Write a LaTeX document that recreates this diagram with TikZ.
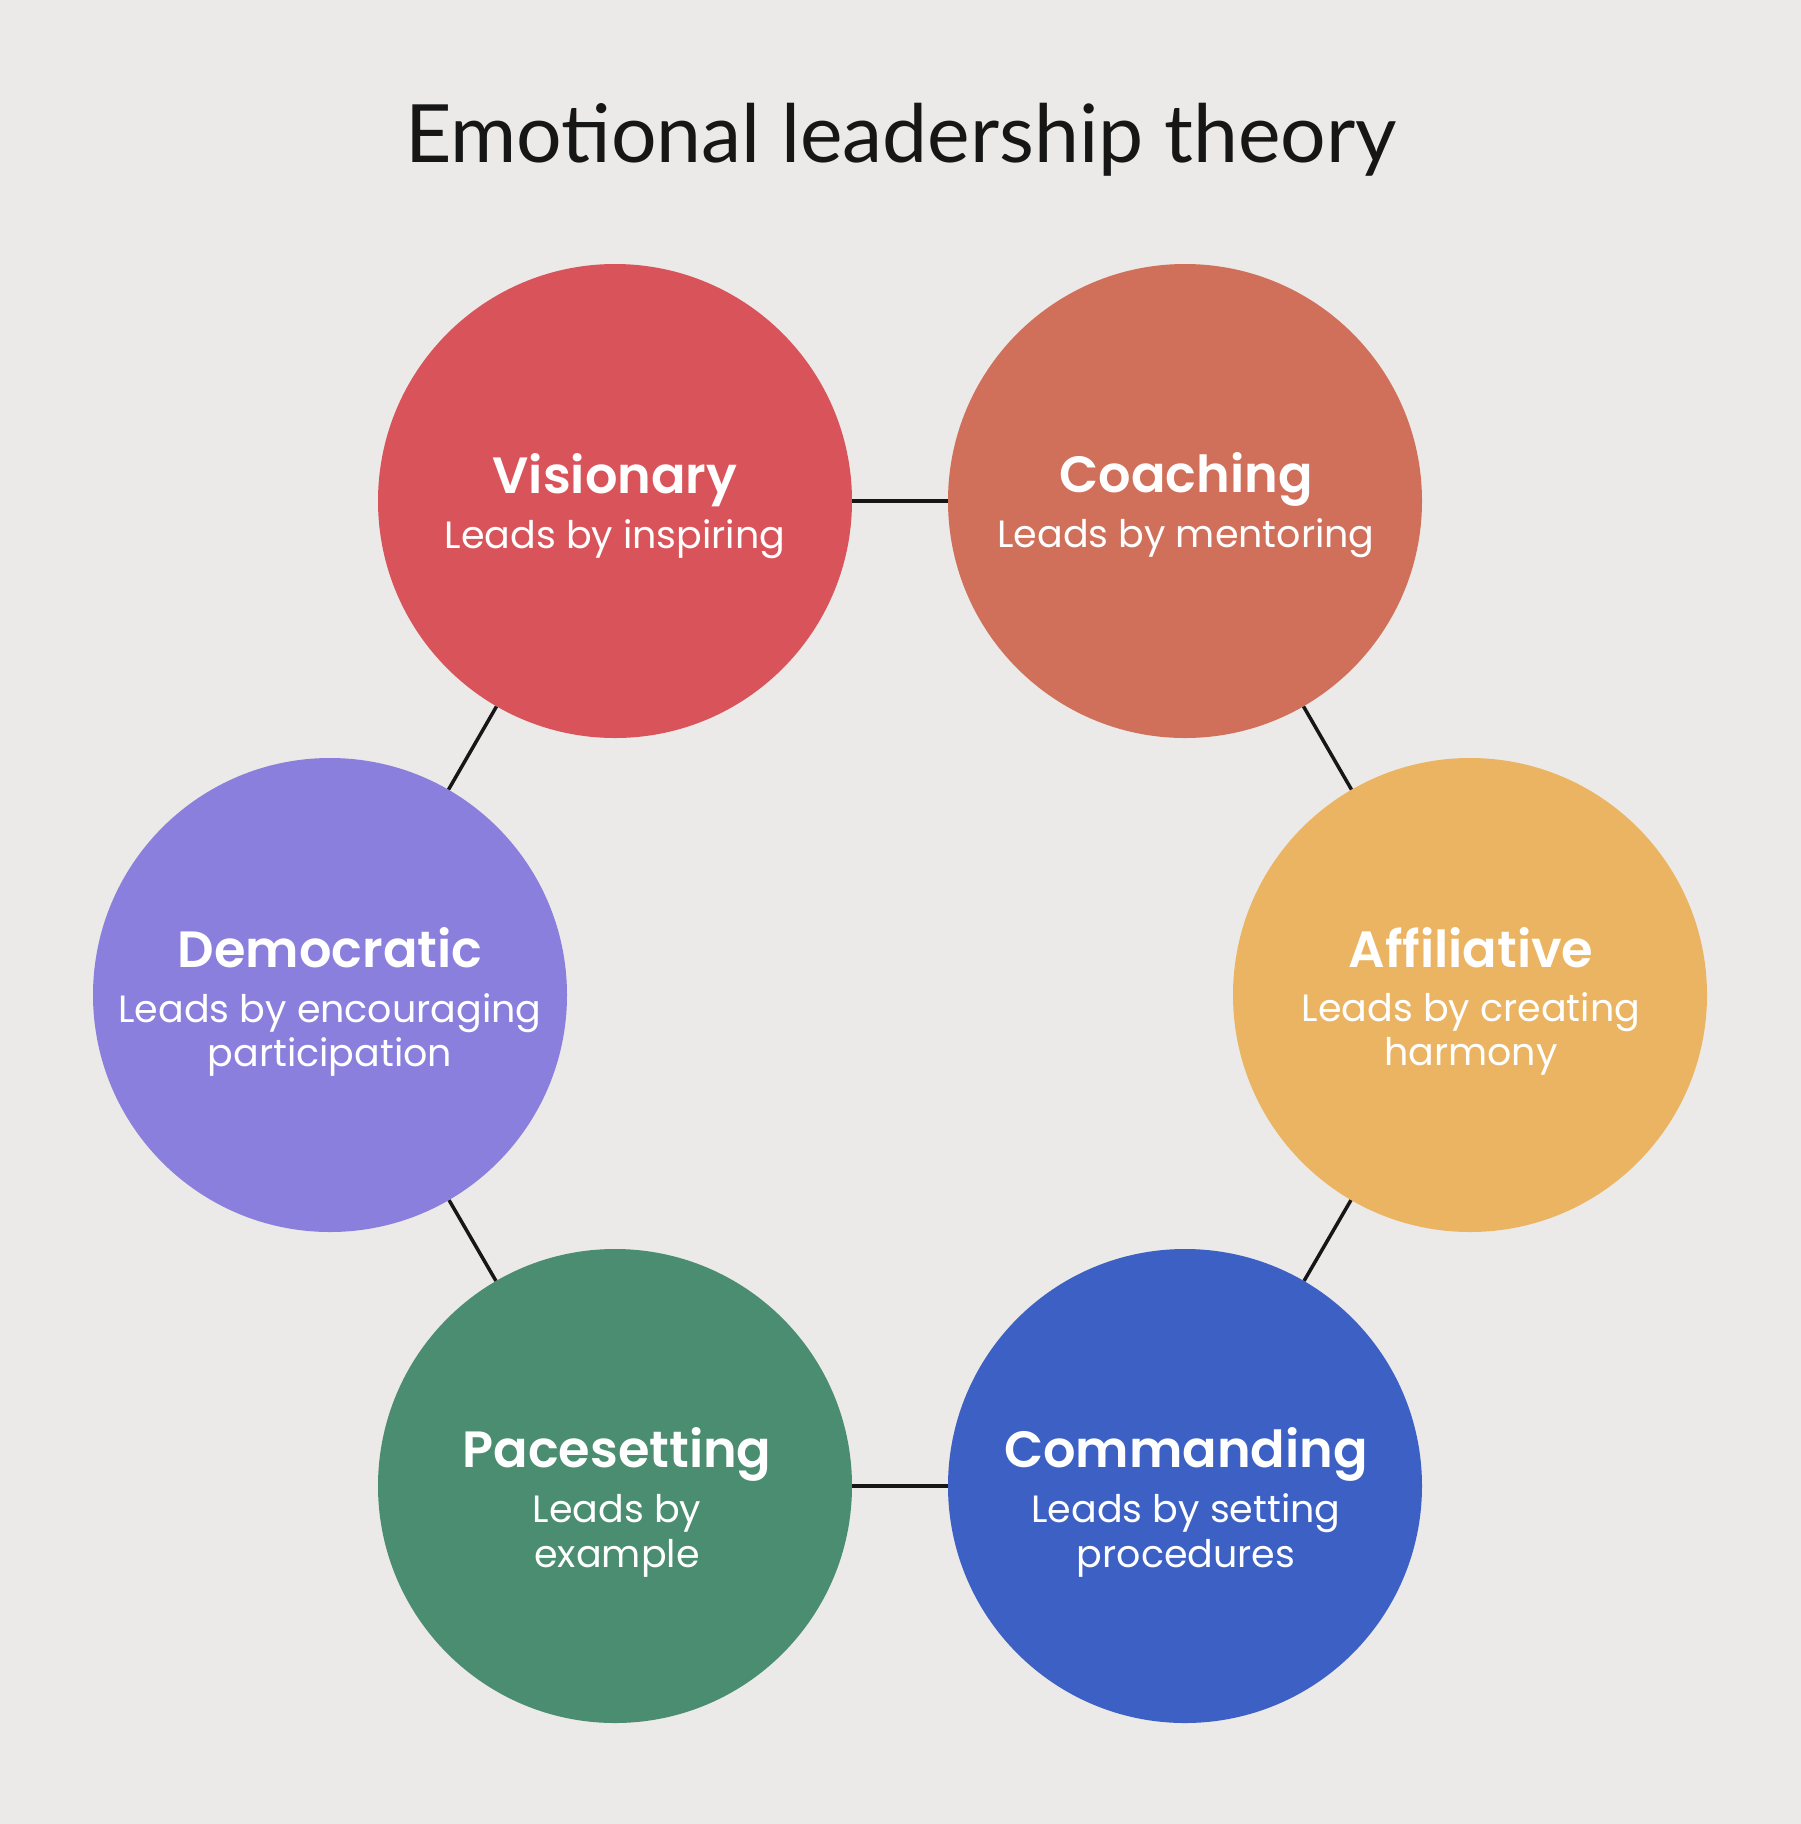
\documentclass[tikz,border=0pt]{standalone}
\usepackage{fontspec}
\setmainfont{Lato}
\newfontfamily\circfont{Poppins}
\newfontfamily\circhead{Poppins SemiBold}
\definecolor{bgcol}{HTML}{ECEAE8}
\definecolor{cVis}{HTML}{D9545A}
\definecolor{cCoa}{HTML}{D0705A}
\definecolor{cDem}{HTML}{8A7FDC}
\definecolor{cAff}{HTML}{EBB462}
\definecolor{cPac}{HTML}{4A8D70}
\definecolor{cCom}{HTML}{3C60C4}
\definecolor{ink}{HTML}{161616}
\begin{document}
\begin{tikzpicture}[x=1pt,y=-1pt,
  bubble/.style={circle, inner sep=0pt, minimum size=474pt, draw=none},
  head/.style={anchor=base, text=white, inner sep=0pt, font=\circhead\fontsize{51}{60}\selectfont},
  sub/.style={anchor=base, text=white, inner sep=0pt, font=\circfont\fontsize{38}{46}\selectfont},
  link/.style={draw=ink, line width=3.5pt}]
\fill[bgcol] (0,0) rectangle (1801,1824);
\useasboundingbox (0,0) rectangle (1801,1824);

\node[anchor=base, text=ink, inner sep=0pt, font=\fontsize{80.5}{90}\selectfont] (title) at (901,162) {Emotional leadership theory};

\node[bubble, fill=cVis] (vis) at (615,501) {};
\node[bubble, fill=cCoa] (coa) at (1185,501) {};
\node[bubble, fill=cDem] (dem) at (330,995) {};
\node[bubble, fill=cAff] (aff) at (1470,995) {};
\node[bubble, fill=cPac] (pac) at (615,1486) {};
\node[bubble, fill=cCom] (com) at (1185,1486) {};

\draw[link] (vis) -- (coa);
\draw[link] (vis) -- (dem);
\draw[link] (coa) -- (aff);
\draw[link] (dem) -- (pac);
\draw[link] (aff) -- (com);
\draw[link] (pac) -- (com);

\node[head] (visH) at (615,493) {Visionary};
\node[sub] (visS) at (615,548) {Leads by inspiring};

\node[head] (coaH) at (1186,492) {Coaching};
\node[sub] (coaS) at (1186,547) {Leads by mentoring};

\node[head] (demH) at (330,967) {Democratic};
\node[sub] (demS1) at (330,1022) {Leads by encouraging};
\node[sub] (demS2) at (330,1066) {participation};

\node[head] (affH) at (1471,967) {Affiliative};
\node[sub] (affS1) at (1471,1021) {Leads by creating};
\node[sub] (affS2) at (1471,1065) {harmony};

\node[head] (pacH) at (617,1467) {Pacesetting};
\node[sub] (pacS1) at (617,1522) {Leads by};
\node[sub] (pacS2) at (617,1567) {example};

\node[head] (comH) at (1186,1467) {Commanding};
\node[sub] (comS1) at (1186,1522) {Leads by setting};
\node[sub] (comS2) at (1186,1567) {procedures};
\end{tikzpicture}
\end{document}
